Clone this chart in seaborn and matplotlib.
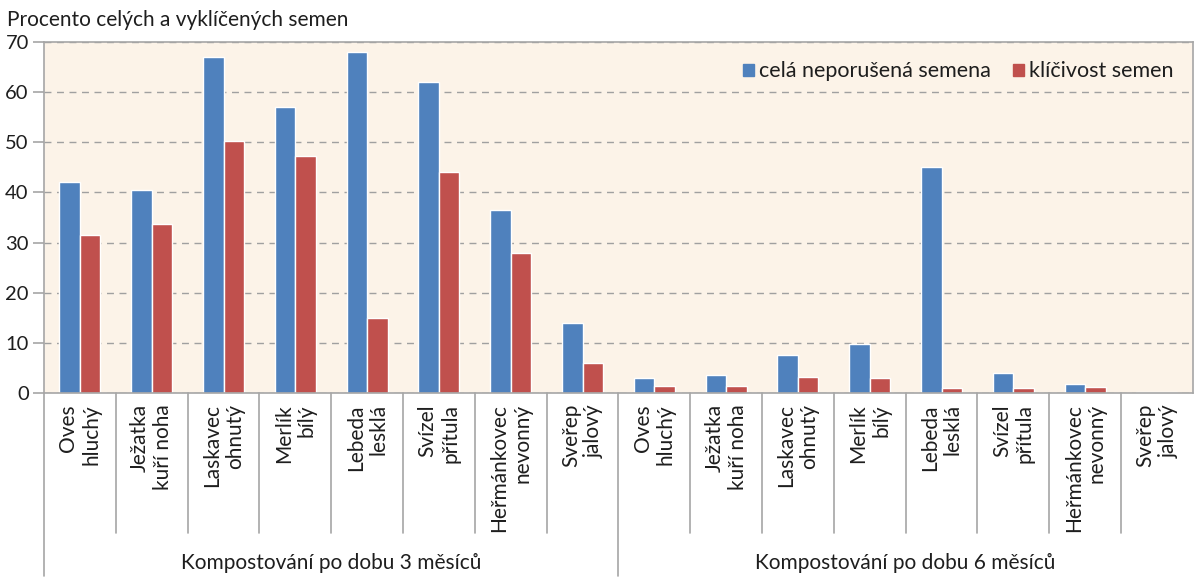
import pandas as pd
import matplotlib

matplotlib.use('Agg')
import matplotlib.pyplot as plt
import matplotlib.transforms as mtransforms
from matplotlib.patches import Patch
import seaborn as sns

# data
druhy = ['Oves\nhluchý', 'Ježatka\nkuří noha', 'Laskavec\nohnutý', 'Merlík\nbílý',
         'Lebeda\nlesklá', 'Svízel\npřítula', 'Heřmánkovec\nnevonný', 'Sveřep\njalový']
skupiny = ['Kompostování po dobu 3 měsíců', 'Kompostování po dobu 6 měsíců']
serie = ['celá neporušená semena', 'klíčivost semen']
cela_3m = [42, 40.5, 67, 57, 68, 62, 36.5, 14]
klic_3m = [31.5, 33.7, 50.2, 47.2, 15, 44, 28, 6]
cela_6m = [2.9, 3.6, 7.6, 9.7, 45, 3.9, 1.7, 0.2]
klic_6m = [1.4, 1.4, 3.2, 2.9, 0.9, 0.9, 1.2, 0.2]

rows = []
for g, (cela, klic) in enumerate([(cela_3m, klic_3m), (cela_6m, klic_6m)]):
    for i, d in enumerate(druhy):
        key = f'{g}_{i}'
        rows.append({'kat': key, 'serie': serie[0], 'hodnota': cela[i]})
        rows.append({'kat': key, 'serie': serie[1], 'hodnota': klic[i]})
df = pd.DataFrame(rows)
order = [f'{g}_{i}' for g in range(2) for i in range(len(druhy))]

sns.set_style('white')
plt.rcParams['font.family'] = ['Lato', 'DejaVu Sans']

colors = {serie[0]: '#4F81BD', serie[1]: '#C0504D'}
grey = '#A6A6A6'
txt = '#1E1E1E'

fig = plt.figure(figsize=(12, 5.8), dpi=100)
ax = fig.add_axes([0.0367, 0.3224, 0.9573, 0.6052])
ax.set_facecolor('#FCF3E8')

sns.barplot(data=df, x='kat', y='hodnota', hue='serie', order=order,
            palette=colors, width=0.57, saturation=1, ax=ax, legend=False)

ax.set_xlim(-0.5, len(order) - 0.5)
ax.set_ylim(0, 70)
ax.set_yticks(range(0, 71, 10))
ax.yaxis.grid(True, linestyle=(0, (5, 4)), color='#A0A0A0', linewidth=1)
ax.set_axisbelow(True)
for s in ax.spines.values():
    s.set_color(grey)
    s.set_linewidth(1.2)
ax.tick_params(axis='y', length=8, width=1.2, color=grey, labelsize=14.5, pad=3,
               left=True, labelcolor=txt)
ax.set_xticks(range(len(order)))
ax.set_xticklabels(druhy * 2, rotation=90, va='top', ha='center',
                   multialignment='right', fontsize=15, linespacing=1.18,
                   color=txt)
ax.tick_params(axis='x', length=0, pad=8)
ax.set_xlabel('')
ax.set_ylabel('')

# category and group separators below the axis
trans = mtransforms.blended_transform_factory(ax.transData, ax.transAxes)
for k in range(len(order) - 1):
    x = k + 0.5
    long = (k + 1) % len(druhy) == 0
    ax.plot([x, x], [0, -0.52 if long else -0.40], transform=trans,
            color=grey, linewidth=1.2, clip_on=False)
ax.plot([-0.5, -0.5], [0, -0.52], transform=trans, color=grey,
        linewidth=1.2, clip_on=False)
for g, name in enumerate(skupiny):
    xc = g * len(druhy) + (len(druhy) - 1) / 2
    ax.text(xc, -0.485, name, transform=trans, ha='center', va='center',
            fontsize=15, color=txt)

fig.text(0.006, 0.966, 'Procento celých a vyklíčených semen', fontsize=15,
         ha='left', va='center', color=txt)

handles = [Patch(color=colors[s], label=s) for s in serie]
ax.legend(handles=handles, loc='upper right', bbox_to_anchor=(1.0, 1.0),
          ncol=2, frameon=False, fontsize=15.5, handlelength=0.5,
          handleheight=0.5, handletextpad=0.25, columnspacing=1.0,
          labelcolor=txt)

plt.savefig('out.png', dpi=100)
plt.close()
